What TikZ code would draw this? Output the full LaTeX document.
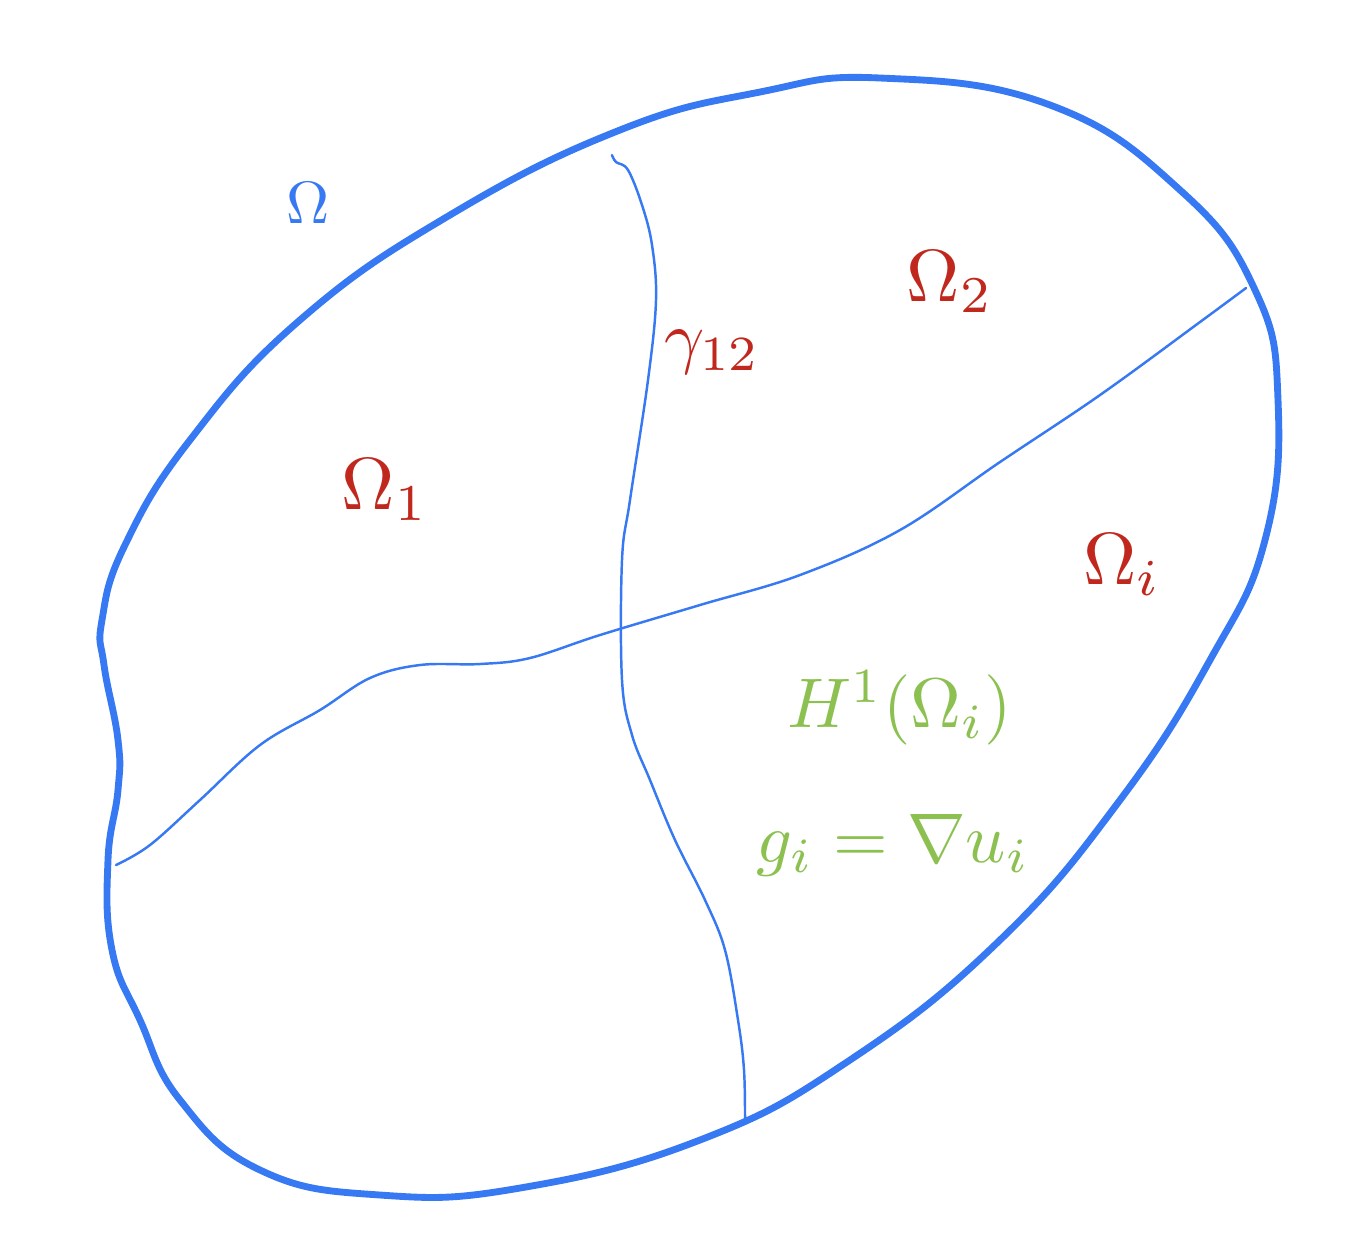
\documentclass[tikz,border=0pt]{standalone}
\usepackage{amsmath}
\definecolor{sketchblue}{HTML}{3779F2}
\definecolor{sketchred}{HTML}{C0281E}
\definecolor{sketchgreen}{HTML}{8CC152}
\begin{document}
\begin{tikzpicture}[x=0.02cm,y=-0.02cm,
  boundary/.style={draw=sketchblue,line width=3.9pt,line join=round},
  interface/.style={draw=sketchblue,line width=1.4pt,line cap=round},
  redlabel/.style={text=sketchred,inner sep=0pt},
  greenlabel/.style={text=sketchgreen,inner sep=0pt}]
\useasboundingbox (0,0) rectangle (1364,1252);
% outer boundary
\draw[boundary] plot[smooth cycle,tension=0.75] coordinates {
 (880,78) (1050,105) (1180,190) (1255,290) (1278,400)
 (1265,540) (1210,660) (1120,800) (1000,940)
 (850,1060) (700,1140) (520,1188) (380,1195) (260,1170)
 (180,1100) (140,1020) (112,950) (108,860) (118,790)
 (118,740) (104,665) (102,620) (125,545) (190,440)
 (300,320) (450,215) (620,130) (760,92)};
% interfaces
\coordinate (vtop) at (612,155);
\coordinate (vbot) at (745,1122);
\coordinate (hright) at (1246,288);
\coordinate (hleft) at (116,865);
\draw[interface] plot[smooth,tension=0.6] coordinates {
 (vtop) (616,162) (628,170) (642,205) (652,245) (656,300) (648,380)
 (630,500) (622,560) (622,680) (632,735) (650,780) (675,840)
 (705,900) (725,950) (738,1020) (744,1070) (vbot)};
\draw[interface] plot[smooth,tension=0.6] coordinates {
 (hright) (1200,322) (1100,395) (1000,462) (900,530) (800,575) (700,605)
 (600,635) (530,658) (480,664) (420,665) (370,678) (320,710) (260,745)
 (200,800) (150,845) (hleft)};
% labels
\node[text=sketchblue,inner sep=0pt,scale=3.4] (om) at (308,203) {$\Omega$};
\node[redlabel,scale=4.2] (om1) at (385,490) {$\Omega_1$};
\node[redlabel,scale=4.2] (om2) at (950,282) {$\Omega_2$};
\node[redlabel,scale=4.2] (omi) at (1122,565) {$\Omega_i$};
\node[redlabel,scale=4.0] (gam) at (712,352) {$\gamma_{12}$};
\node[greenlabel,scale=4.0] (h1) at (900,708) {$H^1(\Omega_i)$};
\node[greenlabel,scale=4.0] (gi) at (893,845) {$g_i=\nabla u_i$};
\end{tikzpicture}
\end{document}
